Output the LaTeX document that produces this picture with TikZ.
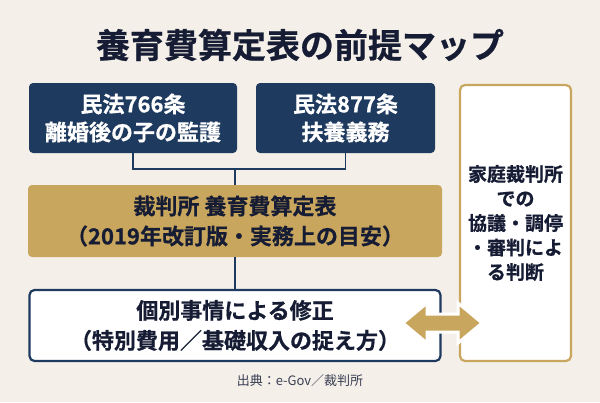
\documentclass[tikz,border=0pt]{standalone}
\usepackage{fontspec}
\setmainfont{Noto Sans CJK JP}[BoldFont={Noto Sans CJK JP Bold}, BoldFeatures={FakeBold=0.6}]
\usepackage{tikz}
\usetikzlibrary{calc}
\usetikzlibrary{positioning}
\definecolor{bgbeige}{HTML}{F4F0E9}
\definecolor{navy}{HTML}{1E3A5F}
\definecolor{gold}{HTML}{C9A65E}
\definecolor{inkdark}{HTML}{151C33}
\tikzset{>=stealth}
\tikzset{
  lawbox/.style={fill=navy, rounded corners=4pt, text=white, align=center, font=\bfseries\fontsize{22}{28}\selectfont, minimum height=70pt, inner sep=0pt},
  goldbox/.style={fill=gold, rounded corners=4pt, text=inkdark, align=center, font=\bfseries\fontsize{22}{30}\selectfont, minimum width=414pt, minimum height=72pt, inner sep=0pt},
  whitebox/.style={fill=white, draw=navy, line width=2.2pt, rounded corners=5pt, text=inkdark, align=center, font=\bfseries\fontsize{22}{30}\selectfont, minimum width=411pt, minimum height=71pt, inner sep=0pt},
  courtbox/.style={fill=white, draw=gold, line width=2.2pt, rounded corners=5pt, text=inkdark, align=center, font=\bfseries\fontsize{19}{24.5}\selectfont, minimum width=111pt, minimum height=276pt, inner sep=0pt},
  conn/.style={draw=navy, line width=1.4pt},
  dblarrow/.style={fill=gold, draw=white, line width=3pt, line join=miter}
}
\begin{document}
\begin{tikzpicture}[x=1pt, y=-1pt]
			\fill[bgbeige] (0, 0) rectangle (600, 402);
			\useasboundingbox (0, 0) rectangle (600, 402);
			\node (title) at (300, 45) [text=inkdark, font=\bfseries\fontsize{34}{36}\selectfont] {養育費算定表の前提マップ};
			\node (law1) at (133, 118) [lawbox, minimum width=208pt] {民法766条\\離婚後の子の監護};
			\node (law2) at (345.5, 118) [lawbox, minimum width=179pt] {民法877条\\扶養義務};
			\node (court) at (515.5, 223) [courtbox] {家庭裁判所\\での\\協議・調停\\・審判によ\\る判断};
			\node (table) at (235, 221) [goldbox] {裁判所 養育費算定表\\（2019年改訂版・実務上の目安）};
			\node (modbox) at (235, 325.5) [whitebox] {個別事情による修正\\（特別費用／基礎収入の捉え方）};
			\coordinate (joint) at (235, 169);
			\draw [conn] (law1.south) |- (joint) -| (law2.south);
			\draw [conn] (joint) -- (table.north);
			\draw [conn] (table.south) -- (modbox.north);
			\coordinate (arrL) at (403, 323);
			\coordinate (arrR) at (482, 323);
			\filldraw [dblarrow] (arrL) -- ++(24, -20) -- ++(0, 11) -- ($(arrR)+(-24, -9)$) -- ++(0, -11) -- (arrR) -- ++(-24, 20) -- ++(0, -11) -- ($(arrL)+(24, 9)$) -- ++(0, 11) -- cycle;
			\node (source) at (300, 381) [text=inkdark!85, font=\fontsize{13}{15}\selectfont] {出典：e-Gov／裁判所};
		\end{tikzpicture}
\end{document}
